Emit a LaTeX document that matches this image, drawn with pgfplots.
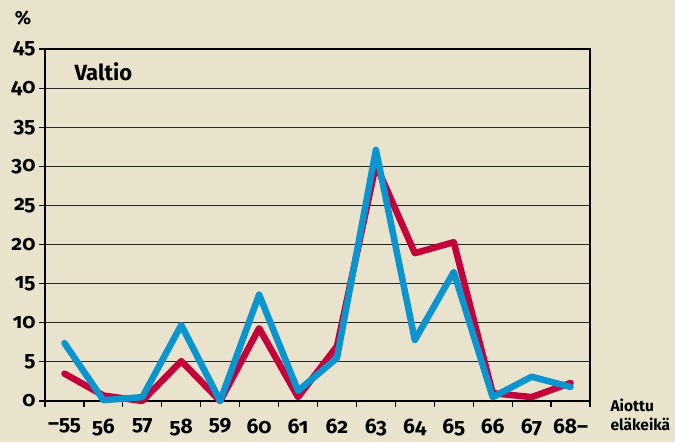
\documentclass[border=0pt]{standalone}
\usepackage{pgfplots}
\pgfplotsset{compat=1.18}
\usepackage{fontspec}
\setmainfont{Fira Sans}[Numbers=OldStyle]
\definecolor{bgcol}{HTML}{E9E3CE}
\definecolor{redc}{HTML}{C4003A}
\definecolor{bluec}{HTML}{0A95CF}
\newcommand\tlfont{\bfseries\fontsize{21}{21}\selectfont}
\begin{document}
\begin{tikzpicture}[font=\bfseries]
\fill[bgcol] (-45pt,-41pt) rectangle (630pt,401pt);
\begin{axis}[
  at={(0,0)}, anchor=south west,
  scale only axis, width=545pt, height=352pt,
  xmin=-0.5, xmax=13.5, ymin=0, ymax=45,
  xtick={-0.5,0.5,...,13.5}, xticklabels={},
  extra x ticks={0,1,...,13},
  extra x tick labels={–55,56,57,58,59,60,61,62,63,64,65,66,67,68–},
  extra x tick style={major tick length=0pt, tick label style={font=\tlfont, yshift=-14pt}},
  ytick={0,5,...,45},
  yticklabels={0,5,10,15,20,25,30,35,40,45},
  xtick pos=lower, ytick pos=left,
  tick align=outside, major tick length=6pt,
  tick style={black, line width=1.2pt},
  axis line style={black, line width=1.2pt},
  ymajorgrids, grid style={black!85, line width=1pt},
  tick label style={font=\tlfont},
  yticklabel style={font=\tlfont, xshift=0pt},
  clip=false,
]
\addplot[redc, line width=6.5pt, line join=round, line cap=round] coordinates {
(0,3.5)(1,0.7)(2,0)(3,5.1)(4,0)(5,9.3)(6,0.5)(7,7)(8,30.2)(9,18.9)(10,20.3)(11,1)(12,0.5)(13,2.3)};
\addplot[bluec, line width=6.5pt, line join=round, line cap=round] coordinates {
(0,7.4)(1,0.1)(2,0.5)(3,9.7)(4,0)(5,13.6)(6,1.3)(7,5.5)(8,32.1)(9,7.8)(10,16.5)(11,0.5)(12,3.1)(13,1.8)};
\end{axis}
\node[font=\bfseries\fontsize{19}{19}\selectfont] at (-22pt,383pt) {\%};
\node[anchor=west, font=\bfseries\fontsize{22}{22}\selectfont] at (26pt,329pt) {Valtio};
\node[anchor=west, font=\bfseries\fontsize{15.5}{15.5}\selectfont] at (562pt,-4pt) {Aiottu};
\node[anchor=west, font=\bfseries\fontsize{15.5}{15.5}\selectfont] at (562pt,-23pt) {eläkeikä};
\pgfresetboundingbox
\useasboundingbox (-45pt,-41pt) rectangle (630pt,401pt);
\end{tikzpicture}
\end{document}
